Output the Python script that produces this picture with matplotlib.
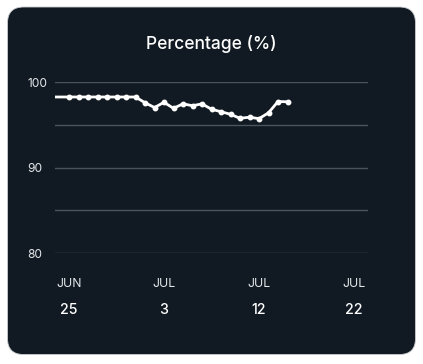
import matplotlib
matplotlib.use("Agg")
import matplotlib.pyplot as plt
from matplotlib.patches import FancyBboxPatch

# ---- data ----
point_index = [-2, 0, 1, 2, 3, 4, 5, 6, 7, 8, 9, 10, 11, 12, 13, 14, 15,
               16, 17, 18, 19, 20, 21, 22, 23]
percentage = [98.25, 98.25, 98.25, 98.25, 98.25, 98.25, 98.25, 98.25, 98.25,
              97.58, 97.02, 97.63, 96.93, 97.45, 97.23, 97.45, 96.82,
              96.53, 96.23, 95.76, 95.89, 95.72, 96.40, 97.72, 97.69]
tick_index = [0, 10, 20, 30]
tick_month = ["JUN", "JUL", "JUL", "JUL"]
tick_day = ["25", "3", "12", "22"]
y_ticks = [80, 85, 90, 95, 100]
y_tick_labels = ["80", "", "90", "", "100"]
title = "Percentage (%)"

W, H = 423, 364
DPI = 100
plt.rcParams["font.family"] = ["Inter", "DejaVu Sans"]

fig = plt.figure(figsize=(W / DPI, H / DPI), dpi=DPI, facecolor="white")

card_color = "#111a22"
# card background
x0, y0, x1, y1 = 7.5, 7, 415.5, 354.5
card = FancyBboxPatch((x0 / W, 1 - y1 / H), (x1 - x0) / W, (y1 - y0) / H,
                      boxstyle="round,pad=0,rounding_size=0.038",
                      transform=fig.transFigure, facecolor=card_color,
                      edgecolor="#c9ccd0", linewidth=0.6, mutation_aspect=W / H,
                      zorder=-5)
fig.patches.append(card)

ax_l, ax_r, ax_t, ax_b = 54.75, 368.25, 82.0, 253.3
ax = fig.add_axes([ax_l / W, 1 - ax_b / H, (ax_r - ax_l) / W, (ax_b - ax_t) / H])
ax.set_zorder(2)
ax.set_facecolor("none")
for s in ax.spines.values():
    s.set_visible(False)

ax.set_xlim(-1.5, 31.5)
ax.set_ylim(80, 100)
ax.set_yticks(y_ticks)
ax.set_yticklabels(y_tick_labels)
ax.grid(axis="y", color="#4b535b", linewidth=1.0)
ax.set_axisbelow(True)
ax.tick_params(axis="y", length=0, pad=(ax_l - 27) * 72 / DPI,
               labelsize=8.6, labelcolor="#e4e7ea")
for lab in ax.get_yticklabels():
    lab.set_horizontalalignment("left")
ax.set_xticks([])

ax.plot(point_index, percentage, color="white", linewidth=2.0,
        marker="o", markersize=3.2, markerfacecolor="white",
        markeredgecolor="white", solid_joinstyle="round", clip_on=True)

for xi, m, d in zip(tick_index, tick_month, tick_day):
    ax.annotate(m, xy=(xi, 0), xycoords=("data", "axes fraction"),
                xytext=(0, -(284 - ax_b) * 72 / DPI), textcoords="offset points",
                ha="center", va="center", fontsize=8.8, color="#e6e9ec")
    ax.annotate(d, xy=(xi, 0), xycoords=("data", "axes fraction"),
                xytext=(0, -(310 - ax_b) * 72 / DPI), textcoords="offset points",
                ha="center", va="center", fontsize=10.2, color="white",
                fontweight="medium")

fig.text(211.5 / W, 1 - 44 / H, title, ha="center", va="center",
         fontsize=12.5, color="white", fontweight="medium")

fig.savefig("out.png", dpi=DPI, facecolor="white")
